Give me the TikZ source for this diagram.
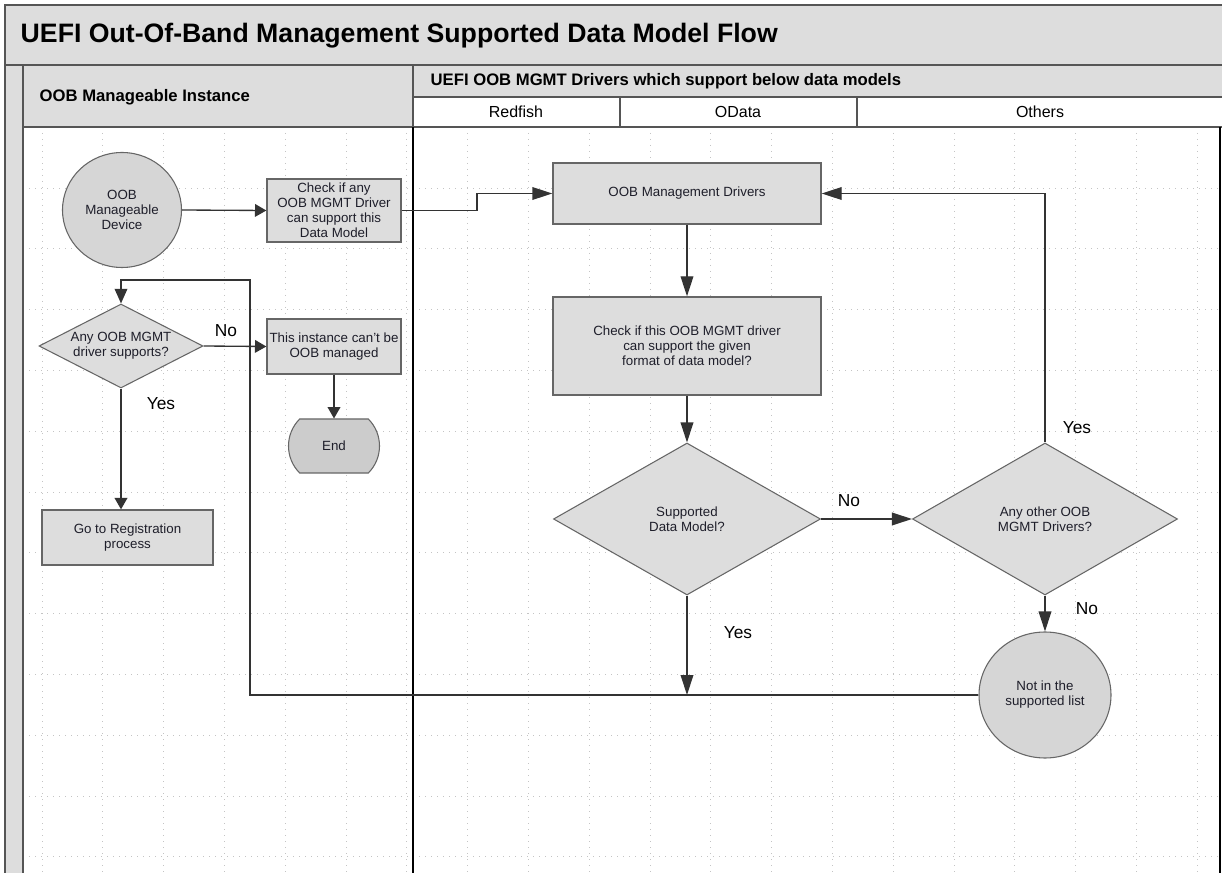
\documentclass[tikz,border=0pt]{standalone}
\usepackage{fontspec}
\setmainfont{Liberation Sans}
\usetikzlibrary{arrows.meta,shapes.geometric,shapes.misc}
\definecolor{boxfill}{HTML}{DDDDDD}
\definecolor{circfill}{HTML}{D6D6D6}
\definecolor{endfill}{HTML}{CCCCCC}
\definecolor{boxline}{HTML}{666666}
\definecolor{hdrfill}{HTML}{DDDDDD}
\definecolor{hdrline}{HTML}{555555}
\definecolor{gridc}{HTML}{C4C4C4}
\definecolor{txt}{HTML}{1E1E2A}
\definecolor{connc}{HTML}{333333}
\begin{document}
\begin{tikzpicture}[x=0.75pt,y=-0.75pt,
 every node/.style={text=txt,align=center,font=\fontsize{10}{11.25}\selectfont},
 proc/.style={rectangle,draw=boxline,fill=boxfill,line width=1pt,inner sep=0pt},
 dec/.style={diamond,draw=boxline,fill=boxfill,line width=0.8pt,inner sep=0pt},
 term/.style={ellipse,draw=boxline,fill=circfill,line width=0.8pt,inner sep=0pt},
 endsh/.style={rounded rectangle,rounded rectangle arc length=90,draw=boxline,fill=endfill,line width=0.8pt,inner sep=0pt},
 conn/.style={draw=connc,line width=1pt},
 arrS/.style={conn,-{Triangle[length=8.5pt,width=9.5pt]}},
 arrM/.style={conn,-{Triangle[length=11pt,width=9.5pt]}},
 arrL/.style={conn,-{Triangle[length=15pt,width=9.5pt]}},
 lbl/.style={font=\fontsize{13}{15}\selectfont,text=black},
 hdr/.style={font=\bfseries\fontsize{12.5}{15}\selectfont,text=black},
 sub/.style={font=\fontsize{12}{14}\selectfont,text=black},
 frame/.style={draw=hdrline,line width=0.8pt},
 gridline/.style={draw=gridc,line width=0.5pt,dash pattern=on 0.75pt off 3.75pt},
]
\useasboundingbox (0,0) rectangle (1222,873);
\fill[white] (0,0) rectangle (1222,873);
\clip (0,0) rectangle (1222,873);

% grid
\begin{scope}
\clip (23,127) rectangle (1220,873);
\foreach \k in {0,...,19} \draw[gridline] ({42+60.8*\k},127) -- ({42+60.8*\k},873);
\foreach \k in {1,...,12} \draw[gridline] (23,{127.2+60.8*\k}) -- (1220,{127.2+60.8*\k});
\end{scope}

% title band and lane headers
\draw[frame,fill=hdrfill] (5,5) rectangle (1232,65);
\node[anchor=west,font=\bfseries\fontsize{20}{24}\selectfont,text=black] (title) at (16,36) {UEFI Out-Of-Band Management Supported Data Model Flow};
\draw[frame,fill=hdrfill] (5,65) rectangle (23,880);
\draw[frame,fill=hdrfill] (23,65) rectangle (413,127);
\node[hdr,anchor=west] (lhdr) at (35,97) {OOB Manageable Instance};
\draw[frame,fill=hdrfill] (413,65) rectangle (1232,97);
\node[hdr,anchor=west] (rhdr) at (426,81) {UEFI OOB MGMT Drivers which support below data models};
\draw[frame,fill=white] (413,97) rectangle (620,127);
\draw[frame,fill=white] (620,97) rectangle (857,127);
\draw[frame,fill=white] (857,97) rectangle (1232,127);
\node[sub] (redfish) at (516,112) {Redfish};
\node[sub] (odata) at (738,112) {OData};
\node[sub] (others) at (1040,112) {Others};
\draw[black,line width=2pt] (413,127) -- (413,880);
\draw[black,line width=2pt] (1220,127) -- (1220,880);

% left lane nodes
\node[term,minimum width=89.25pt,minimum height=86.25pt] (dev) at (122,210) {OOB\\Manageable\\Device};
\node[proc,minimum width=100.5pt,minimum height=47.25pt] (chk1) at (334,210.5) {Check if any\\OOB MGMT Driver\\can support this\\Data Model};
\node[dec,aspect=1.95,minimum width=123pt,minimum height=63pt] (anyoob) at (121,346) {Any OOB MGMT\\driver supports?};
\node[proc,minimum width=100.5pt,minimum height=41.25pt] (cant) at (334,346.5) {This instance can’t be\\OOB managed};
\node[endsh,minimum width=68.25pt,minimum height=40.5pt] (end) at (334,446) {End};
\node[proc,minimum width=128.25pt,minimum height=41.25pt] (reg) at (127.5,537.5) {Go to Registration\\process};

% right lane nodes
\node[proc,minimum width=201pt,minimum height=45.75pt] (drv) at (687,193.5) {OOB Management Drivers};
\node[proc,minimum width=201pt,minimum height=73.5pt] (chk2) at (687,346) {Check if this OOB MGMT driver\\can support the given\\format of data model?};
\node[dec,aspect=1.76,minimum width=200.25pt,minimum height=114pt] (supp) at (687,519) {Supported\\Data Model?};
\node[dec,aspect=1.75,minimum width=198.75pt,minimum height=114pt] (other) at (1045,519) {Any other OOB\\MGMT Drivers?};
\node[term,minimum width=99pt,minimum height=94.5pt] (notin) at (1045,695) {Not in the\\supported list};

\coordinate (bend1) at (477,210.5);
\coordinate (lp) at (250,280);
\coordinate (junc) at (687,695);

% connectors
\draw[arrS] (dev.east) -- (chk1.west);
\draw[arrL] (chk1.east) -- (bend1) |- (drv.west);
\draw[arrL] (drv.south) -- (chk2.north);
\draw[arrL] (chk2.south) -- (supp.north);
\draw[arrL] (supp.east) -- (other.west);
\draw[arrL] (other.south) -- (notin.north);
\draw[arrL] (other.north) |- (drv.east);
\draw[arrL] (supp.south) -- (junc);
\draw[arrM] (notin.west) -| (lp) -| (anyoob.north);
\draw[arrS] (anyoob.east) -- (cant.west);
\draw[arrS] (cant.south) -- (end.north);
\draw[arrS] (anyoob.south) -- (anyoob.south |- reg.north);

% labels
\node[lbl] (l1) at (226,331) {No};
\node[lbl] (l2) at (161,404) {Yes};
\node[lbl] (l3) at (849,501) {No};
\node[lbl] (l4) at (738,633) {Yes};
\node[lbl] (l5) at (1077,428) {Yes};
\node[lbl] (l6) at (1087,609) {No};
\end{tikzpicture}
\end{document}
